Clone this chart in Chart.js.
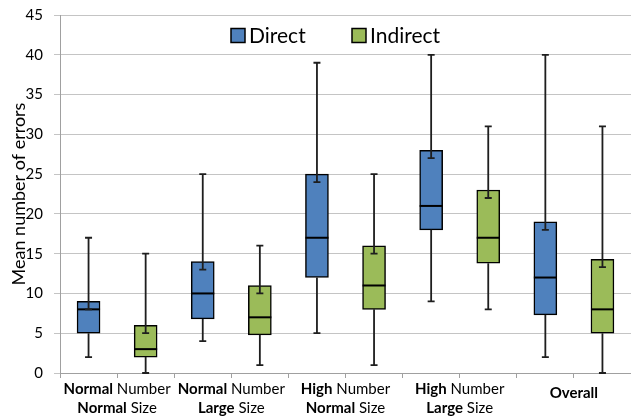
<!DOCTYPE html>
<html><head><meta charset="utf-8">
<script src="https://cdn.jsdelivr.net/npm/chart.js@4/dist/chart.umd.min.js"></script>
<style>html,body{margin:0;padding:0;background:#fff}#wrap{width:631px;height:420px}</style>
</head><body><div id="wrap"><canvas id="c" width="631" height="420"></canvas></div>
<script>
// ---- data ----
const groupLine1 = [["Normal"," Number"],["Normal"," Number"],["High"," Number"],["High"," Number"],["Overall",""]];
const groupLine2 = [["Normal"," Size"],["Large"," Size"],["Normal"," Size"],["Large"," Size"],["",""]];
const categories = ["NN-D","NN-I","NL-D","NL-I","HN-D","HN-I","HL-D","HL-I","All-D","All-I"];
const seriesNames = ["Direct","Indirect"];

const directMax        = [17, 25, 39, 40, 40];
const directUpperInner = [8, 13, 24, 27, 18];
const directQ3         = [9, 14, 25, 28, 19];
const directMedian     = [8, 10, 17, 21, 12];
const directQ1         = [5, 6.8, 12, 18, 7.3];
const directMin        = [2, 4, 5, 9, 2];

const indirectMax        = [15, 16, 25, 31, 31];
const indirectUpperInner = [5, 10, 15, 22, 13.3];
const indirectQ3         = [6, 11, 16, 23, 14.3];
const indirectMedian     = [3, 7, 11, 17, 8];
const indirectQ1         = [2, 4.8, 8, 13.8, 5];
const indirectMin        = [0, 1, 1, 8, 0];

const yTicks = [0,5,10,15,20,25,30,35,40,45];

// ---- build ----
function boxes(q1, q3, slot){
  const arr = categories.map(()=>null);
  q1.forEach((v,g)=>{ arr[g*2+slot] = [v, q3[g]]; });
  return arr;
}
const stats = [
  {max:directMax, inner:directUpperInner, med:directMedian, q1:directQ1, min:directMin},
  {max:indirectMax, inner:indirectUpperInner, med:indirectMedian, q1:indirectQ1, min:indirectMin}
];
const FONT = "Lato, 'Open Sans', sans-serif";

const decor = {
  id:'decor',
  afterDatasetsDraw(chart){
    const ctx = chart.ctx, y = chart.scales.y;
    chart.data.datasets.forEach((ds, di)=>{
      const meta = chart.getDatasetMeta(di), s = stats[di];
      meta.data.forEach((bar, i)=>{
        if (ds.data[i] == null) return;
        const g = Math.floor(i/2);
        const w = bar.width, x = bar.x;
        ctx.save();
        // median
        ctx.strokeStyle = '#000'; ctx.lineWidth = 2;
        ctx.beginPath();
        ctx.moveTo(x - w/2, y.getPixelForValue(s.med[g]));
        ctx.lineTo(x + w/2, y.getPixelForValue(s.med[g]));
        ctx.stroke();
        // whiskers
        ctx.strokeStyle = '#1e1e1e'; ctx.lineWidth = 1.8;
        const cap = 3.5;
        const yMax = y.getPixelForValue(s.max[g]), yIn = y.getPixelForValue(s.inner[g]);
        const yQ1 = y.getPixelForValue(s.q1[g]), yMin = y.getPixelForValue(s.min[g]);
        ctx.beginPath();
        ctx.moveTo(x, yIn); ctx.lineTo(x, yMax);
        ctx.moveTo(x-cap, yMax); ctx.lineTo(x+cap, yMax);
        ctx.moveTo(x-cap, yIn); ctx.lineTo(x+cap, yIn);
        ctx.moveTo(x, yQ1); ctx.lineTo(x, yMin);
        ctx.moveTo(x-cap, yMin); ctx.lineTo(x+cap, yMin);
        ctx.stroke();
        ctx.restore();
      });
    });
  },
  afterDraw(chart){
    const ctx = chart.ctx, xs = chart.scales.x;
    ctx.save();
    ctx.fillStyle = '#000';
    ctx.textBaseline = 'alphabetic';
    // x group labels
    const drawMixed = (parts, cx, base) => {
      ctx.font = "bold 15px " + FONT;
      const w1 = ctx.measureText(parts[0]).width;
      ctx.font = "15px " + FONT;
      const w2 = ctx.measureText(parts[1]).width;
      let x0 = cx - (w1 + w2)/2;
      ctx.textAlign = 'left';
      ctx.font = "bold 15px " + FONT; ctx.fillText(parts[0], x0, base);
      ctx.font = "15px " + FONT; ctx.fillText(parts[1], x0 + w1, base);
    };
    groupLine1.forEach((p, g)=>{
      const cx = (xs.getPixelForValue(g*2) + xs.getPixelForValue(g*2+1))/2;
      const single = groupLine2[g][0] === "" && groupLine2[g][1] === "";
      drawMixed(p, cx, single ? 398 : 394);
      if (!single) drawMixed(groupLine2[g], cx, 413);
    });
    // legend
    const items = chart.data.datasets.map(d=>({t:d.label, c:d.backgroundColor}));
    const pos = [231, 352];
    ctx.font = "21px " + FONT;
    items.forEach((it, k)=>{
      ctx.fillStyle = it.c; ctx.strokeStyle = '#000'; ctx.lineWidth = 1.5;
      ctx.fillRect(pos[k], 28.5, 14, 14);
      ctx.strokeRect(pos[k], 28.5, 14, 14);
      ctx.fillStyle = '#000';
      ctx.fillText(it.t, pos[k] + 18, 43);
    });
    ctx.restore();
  }
};

new Chart(document.getElementById('c'), {
  type:'bar',
  data:{
    labels: categories,
    datasets:[
      {label:seriesNames[0], data:boxes(directQ1, directQ3, 0), backgroundColor:'#4f81bd', borderColor:'#000', borderWidth:1.5, borderSkipped:false, grouped:false, barThickness:23},
      {label:seriesNames[1], data:boxes(indirectQ1, indirectQ3, 1), backgroundColor:'#9bbb59', borderColor:'#000', borderWidth:1.5, borderSkipped:false, grouped:false, barThickness:23}
    ]
  },
  options:{
    responsive:false, animation:false, devicePixelRatio:1,
    layout:{padding:{left:0, right:0, top:15, bottom:42}},
    plugins:{legend:{display:false}, tooltip:{enabled:false}},
    scales:{
      x:{
        offset:true,
        grid:{offset:true, drawOnChartArea:false, drawTicks:true, tickLength:5, color:'#a0a0a0'},
        border:{color:'#a0a0a0', width:1},
        ticks:{display:false}
      },
      y:{
        min:0, max:45,
        afterBuildTicks(s){ s.ticks = yTicks.map(v=>({value:v})); },
        afterFit(s){ s.width = 60; s.paddingTop = 0; s.paddingBottom = 0; },
        ticks:{font:{family:FONT, size:15}, color:'#000', padding:11},
        grid:{color:'#c4c4c4', tickLength:6, lineWidth:1},
        border:{color:'#a0a0a0', width:1},
        title:{display:true, text:'Mean number of errors', font:{family:FONT, size:18}, color:'#000', padding:{top:8, bottom:0}}
      }
    }
  },
  plugins:[decor]
});
</script></body></html>
